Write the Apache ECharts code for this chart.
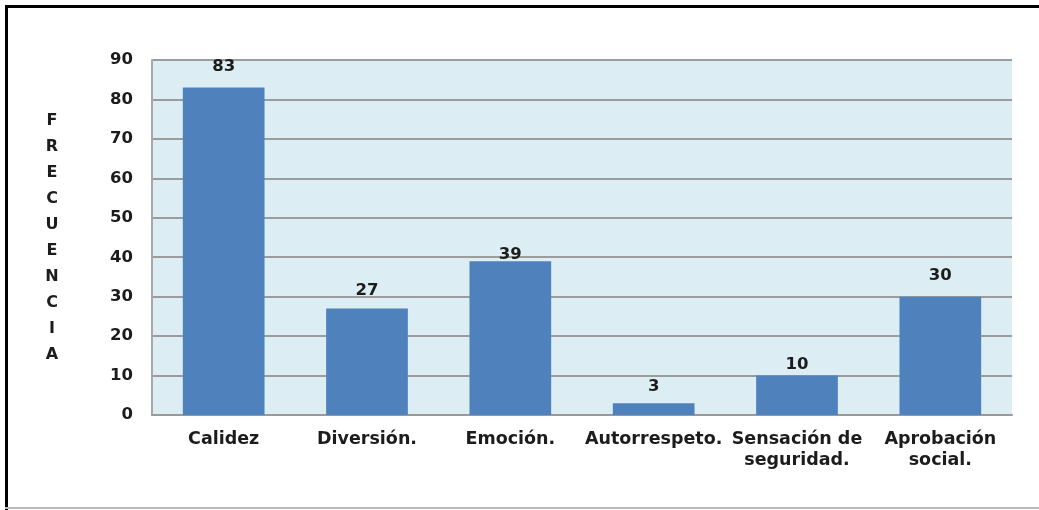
<!DOCTYPE html>
<html>
<head>
<meta charset="utf-8">
<script src="https://cdn.jsdelivr.net/npm/echarts@6/dist/echarts.min.js"></script>
<style>
  html, body { margin: 0; padding: 0; background: #ffffff; }
  #chart { width: 1039px; height: 510px; }
</style>
</head>
<body>
<div id="chart"></div>
<script>
// Categories and frequencies
const categories = ['Calidez', 'Diversión.', 'Emoción.', 'Autorrespeto.', 'Sensación de\nseguridad.', 'Aprobación\nsocial.'];
const frecuencias = [83, 27, 39, 3, 10, 30];
const axisTitle = 'FRECUENCIA';

// Gap between each bar top and its value label (px)
const labelGaps = [12, 9, -2, 8, 2, 12];

const FONT = '"DejaVu Sans", Verdana, sans-serif';
const TEXT = '#1c1c1c';

const chart = echarts.init(document.getElementById('chart'), null, { renderer: 'canvas' });

chart.setOption({
  animation: false,
  backgroundColor: '#ffffff',
  grid: {
    left: 152, right: 27, top: 60, bottom: 95,
    show: true, backgroundColor: '#DCEEF4', borderWidth: 0
  },
  xAxis: {
    type: 'category',
    data: categories,
    axisLine: { show: true, lineStyle: { color: '#9a9a9a', width: 2 } },
    axisTick: { show: false },
    axisLabel: {
      color: TEXT, fontFamily: FONT, fontWeight: 'bold', fontSize: 17.5,
      lineHeight: 21, margin: 14, interval: 0
    }
  },
  yAxis: {
    type: 'value',
    min: 0, max: 90, interval: 10,
    name: axisTitle.split('').join('\n'),
    nameLocation: 'middle',
    nameRotate: 0,
    nameGap: 100,
    nameTextStyle: {
      color: TEXT, fontFamily: FONT, fontWeight: 'bold', fontSize: 16, lineHeight: 26,
      align: 'center'
    },
    axisLine: { show: true, lineStyle: { color: '#a8a8a8', width: 2 } },
    axisTick: { show: false },
    splitLine: { show: true, lineStyle: { color: '#9c9c9c', width: 2 } },
    axisLabel: {
      color: TEXT, fontFamily: FONT, fontWeight: 'bold', fontSize: 16.5, margin: 19
    }
  },
  series: [{
    type: 'bar',
    data: frecuencias.map((v, i) => labelGaps[i] >= 0
      ? { value: v, label: { distance: labelGaps[i] } }
      : { value: v, label: { distance: 0, offset: [0, -labelGaps[i]] } }),
    barWidth: '57%',
    itemStyle: { color: '#4F81BD' },
    label: {
      show: true, position: 'top',
      color: TEXT, fontFamily: FONT, fontWeight: 'bold', fontSize: 16.5
    }
  }],
  graphic: [
    { type: 'rect', shape: { x: 5, y: 5, width: 1034, height: 3 }, style: { fill: '#000' }, z: 10 },
    { type: 'rect', shape: { x: 5, y: 5, width: 3, height: 505 }, style: { fill: '#000' }, z: 10 },
    { type: 'rect', shape: { x: 5, y: 507, width: 1034, height: 2 }, style: { fill: '#b8b8b8' }, z: 10 }
  ]
});
</script>
</body>
</html>
